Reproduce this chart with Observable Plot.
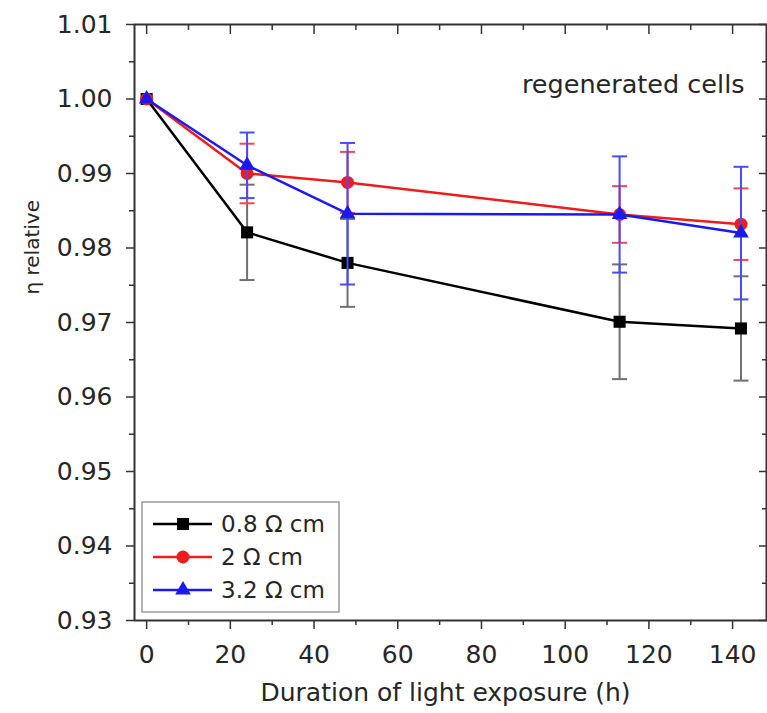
<!DOCTYPE html>
<html>
<head>
<meta charset="utf-8">
<script src="https://cdn.jsdelivr.net/npm/d3@7"></script>
<script src="https://cdn.jsdelivr.net/npm/@observablehq/plot@0.6"></script>
<style>
  html, body { margin: 0; padding: 0; background: #fff; }
  #chart { width: 767px; height: 713px; overflow: hidden; }
  svg { display: block; }
</style>
</head>
<body>
<div id="chart"></div>
<script>
// ---- data ----
const hours = [0, 24, 48, 113, 142];
const eta08 = [1.000, 0.9821, 0.9780, 0.9701, 0.9692];
const err08 = [0, 0.0064, 0.0059, 0.0077, 0.0070];
const eta2  = [1.000, 0.9900, 0.9888, 0.9845, 0.9832];
const err2  = [0, 0.0040, 0.0041, 0.0038, 0.0048];
const eta32 = [1.000, 0.9911, 0.9846, 0.9845, 0.9820];
const err32 = [0, 0.0044, 0.0095, 0.0078, 0.0089];
const seriesNames = ["0.8 Ω cm", "2 Ω cm", "3.2 Ω cm"];
const yTicks = [0.93, 0.94, 0.95, 0.96, 0.97, 0.98, 0.99, 1.00, 1.01];
const yMinor = [0.935, 0.945, 0.955, 0.965, 0.975, 0.985, 0.995, 1.005];
const xTicks = [0, 20, 40, 60, 80, 100, 120, 140];
const xMinor = [10, 30, 50, 70, 90, 110, 130];
const xLabel = "Duration of light exposure (h)";
const yLabel = "η relative";
const note = "regenerated cells";

// ---- styles ----
const lineColors = ["#000000", "#ee1c1c", "#1a1aee"];
const barColors  = ["#707070", "#ee4a4a", "#4a4aff"];
const symbols    = ["square", "circle", "triangle"];
const radii      = [6.8, 6.5, 5.8];
const font = "'DejaVu Sans', 'Liberation Sans', Arial, sans-serif";
const textColor = "#262626";

const series = [
  {name: seriesNames[0], eta: eta08, err: err08},
  {name: seriesNames[1], eta: eta2,  err: err2},
  {name: seriesNames[2], eta: eta32, err: err32}
].map((s, i) => ({
  ...s, i,
  rows: hours.map((h, k) => ({h, v: s.eta[k], e: s.err[k]}))
}));

const capSymbol = {
  draw(context) { context.moveTo(-7.5, 0); context.lineTo(7.5, 0); }
};

const seriesMarks = series.flatMap(s => {
  const bars = s.rows.filter(d => d.e > 0);
  return [
    Plot.ruleX(bars, {x: "h", y1: d => d.v - d.e, y2: d => d.v + d.e, stroke: barColors[s.i], strokeWidth: 2}),
    Plot.dot(bars, {x: "h", y: d => d.v - d.e, symbol: capSymbol, fill: "none", stroke: barColors[s.i], strokeWidth: 2, r: 5}),
    Plot.dot(bars, {x: "h", y: d => d.v + d.e, symbol: capSymbol, fill: "none", stroke: barColors[s.i], strokeWidth: 2, r: 5}),
    Plot.line(s.rows, {x: "h", y: "v", stroke: lineColors[s.i], strokeWidth: 2.5}),
    Plot.dot(s.rows, {x: "h", y: "v", symbol: symbols[s.i], r: radii[s.i], fill: lineColors[s.i], stroke: "none"})
  ];
});

const chart = Plot.plot({
  width: 767,
  height: 713,
  marginLeft: 134,
  marginRight: 1,
  marginTop: 24,
  marginBottom: 93,
  style: {fontFamily: font, fontSize: "25px", color: textColor, background: "#fff"},
  x: {domain: [-2.9, 148.1]},
  y: {domain: [0.93, 1.01]},
  marks: [
    // axes (left / bottom, outward ticks with labels)
    Plot.axisY({ticks: yTicks, tickFormat: d3.format(".2f"), tickSize: 8, tickPadding: 14, fontSize: 25, label: null, stroke: "#333", strokeWidth: 1.5, fill: textColor}),
    Plot.axisY({ticks: yMinor, tickSize: 5, text: null, label: null, stroke: "#333", strokeWidth: 1.5}),
    Plot.axisX({ticks: xTicks, tickSize: 9, tickPadding: 16, fontSize: 25, label: null, stroke: "#333", strokeWidth: 1.5, fill: textColor}),
    Plot.axisX({ticks: xMinor, tickSize: 5, text: null, label: null, stroke: "#333", strokeWidth: 1.5}),
    // mirrored inward ticks on top / right
    Plot.axisY({anchor: "right", ticks: yTicks, tickSize: -8, text: null, label: null, stroke: "#333", strokeWidth: 1.5}),
    Plot.axisY({anchor: "right", ticks: yMinor, tickSize: -5, text: null, label: null, stroke: "#333", strokeWidth: 1.5}),
    Plot.axisX({anchor: "top", ticks: xTicks, tickSize: -9, text: null, label: null, stroke: "#333", strokeWidth: 1.5}),
    Plot.axisX({anchor: "top", ticks: xMinor, tickSize: -5, text: null, label: null, stroke: "#333", strokeWidth: 1.5}),
    Plot.frame({stroke: "#333", strokeWidth: 2}),
    // axis titles and annotation
    Plot.text([xLabel], {text: d => d, frameAnchor: "bottom", lineAnchor: "middle", dy: 72, dx: -5, fontSize: 25, fill: textColor}),
    Plot.text([yLabel], {text: d => d, frameAnchor: "left", lineAnchor: "middle", dx: -102, dy: -28, rotate: -90, fontSize: 20, fill: textColor}),
    Plot.text([note], {text: d => d, frameAnchor: "top-right", lineAnchor: "middle", dx: -22, dy: 60, textAnchor: "end", fontSize: 25.5, fill: textColor}),
    ...seriesMarks
  ]
});

document.getElementById("chart").appendChild(chart);

// ---- legend (drawn into the svg, bottom-left inside the frame) ----
const svg = d3.select(chart);
const lg = svg.append("g").style("font-family", font).style("font-size", "23px").attr("text-anchor", "start");
lg.append("rect").attr("x", 142).attr("y", 502).attr("width", 197).attr("height", 110)
  .attr("fill", "#fff").attr("stroke", "#9a9a9a").attr("stroke-width", 1.5);
const rowY = [524, 557, 590];
series.forEach((s, i) => {
  const y = rowY[i];
  lg.append("line").attr("x1", 153).attr("x2", 212).attr("y1", y).attr("y2", y)
    .attr("stroke", lineColors[i]).attr("stroke-width", 2.5);
  const sym = d3.symbol().type([d3.symbolSquare, d3.symbolCircle, d3.symbolTriangle][i]).size(Math.PI * radii[i] * radii[i]);
  lg.append("path").attr("d", sym()).attr("transform", `translate(183,${y})`).attr("fill", lineColors[i]);
  lg.append("text").attr("x", 221).attr("y", y).attr("dy", "0.36em").attr("text-anchor", "start")
    .attr("fill", textColor).text(s.name);
});
</script>
</body>
</html>
